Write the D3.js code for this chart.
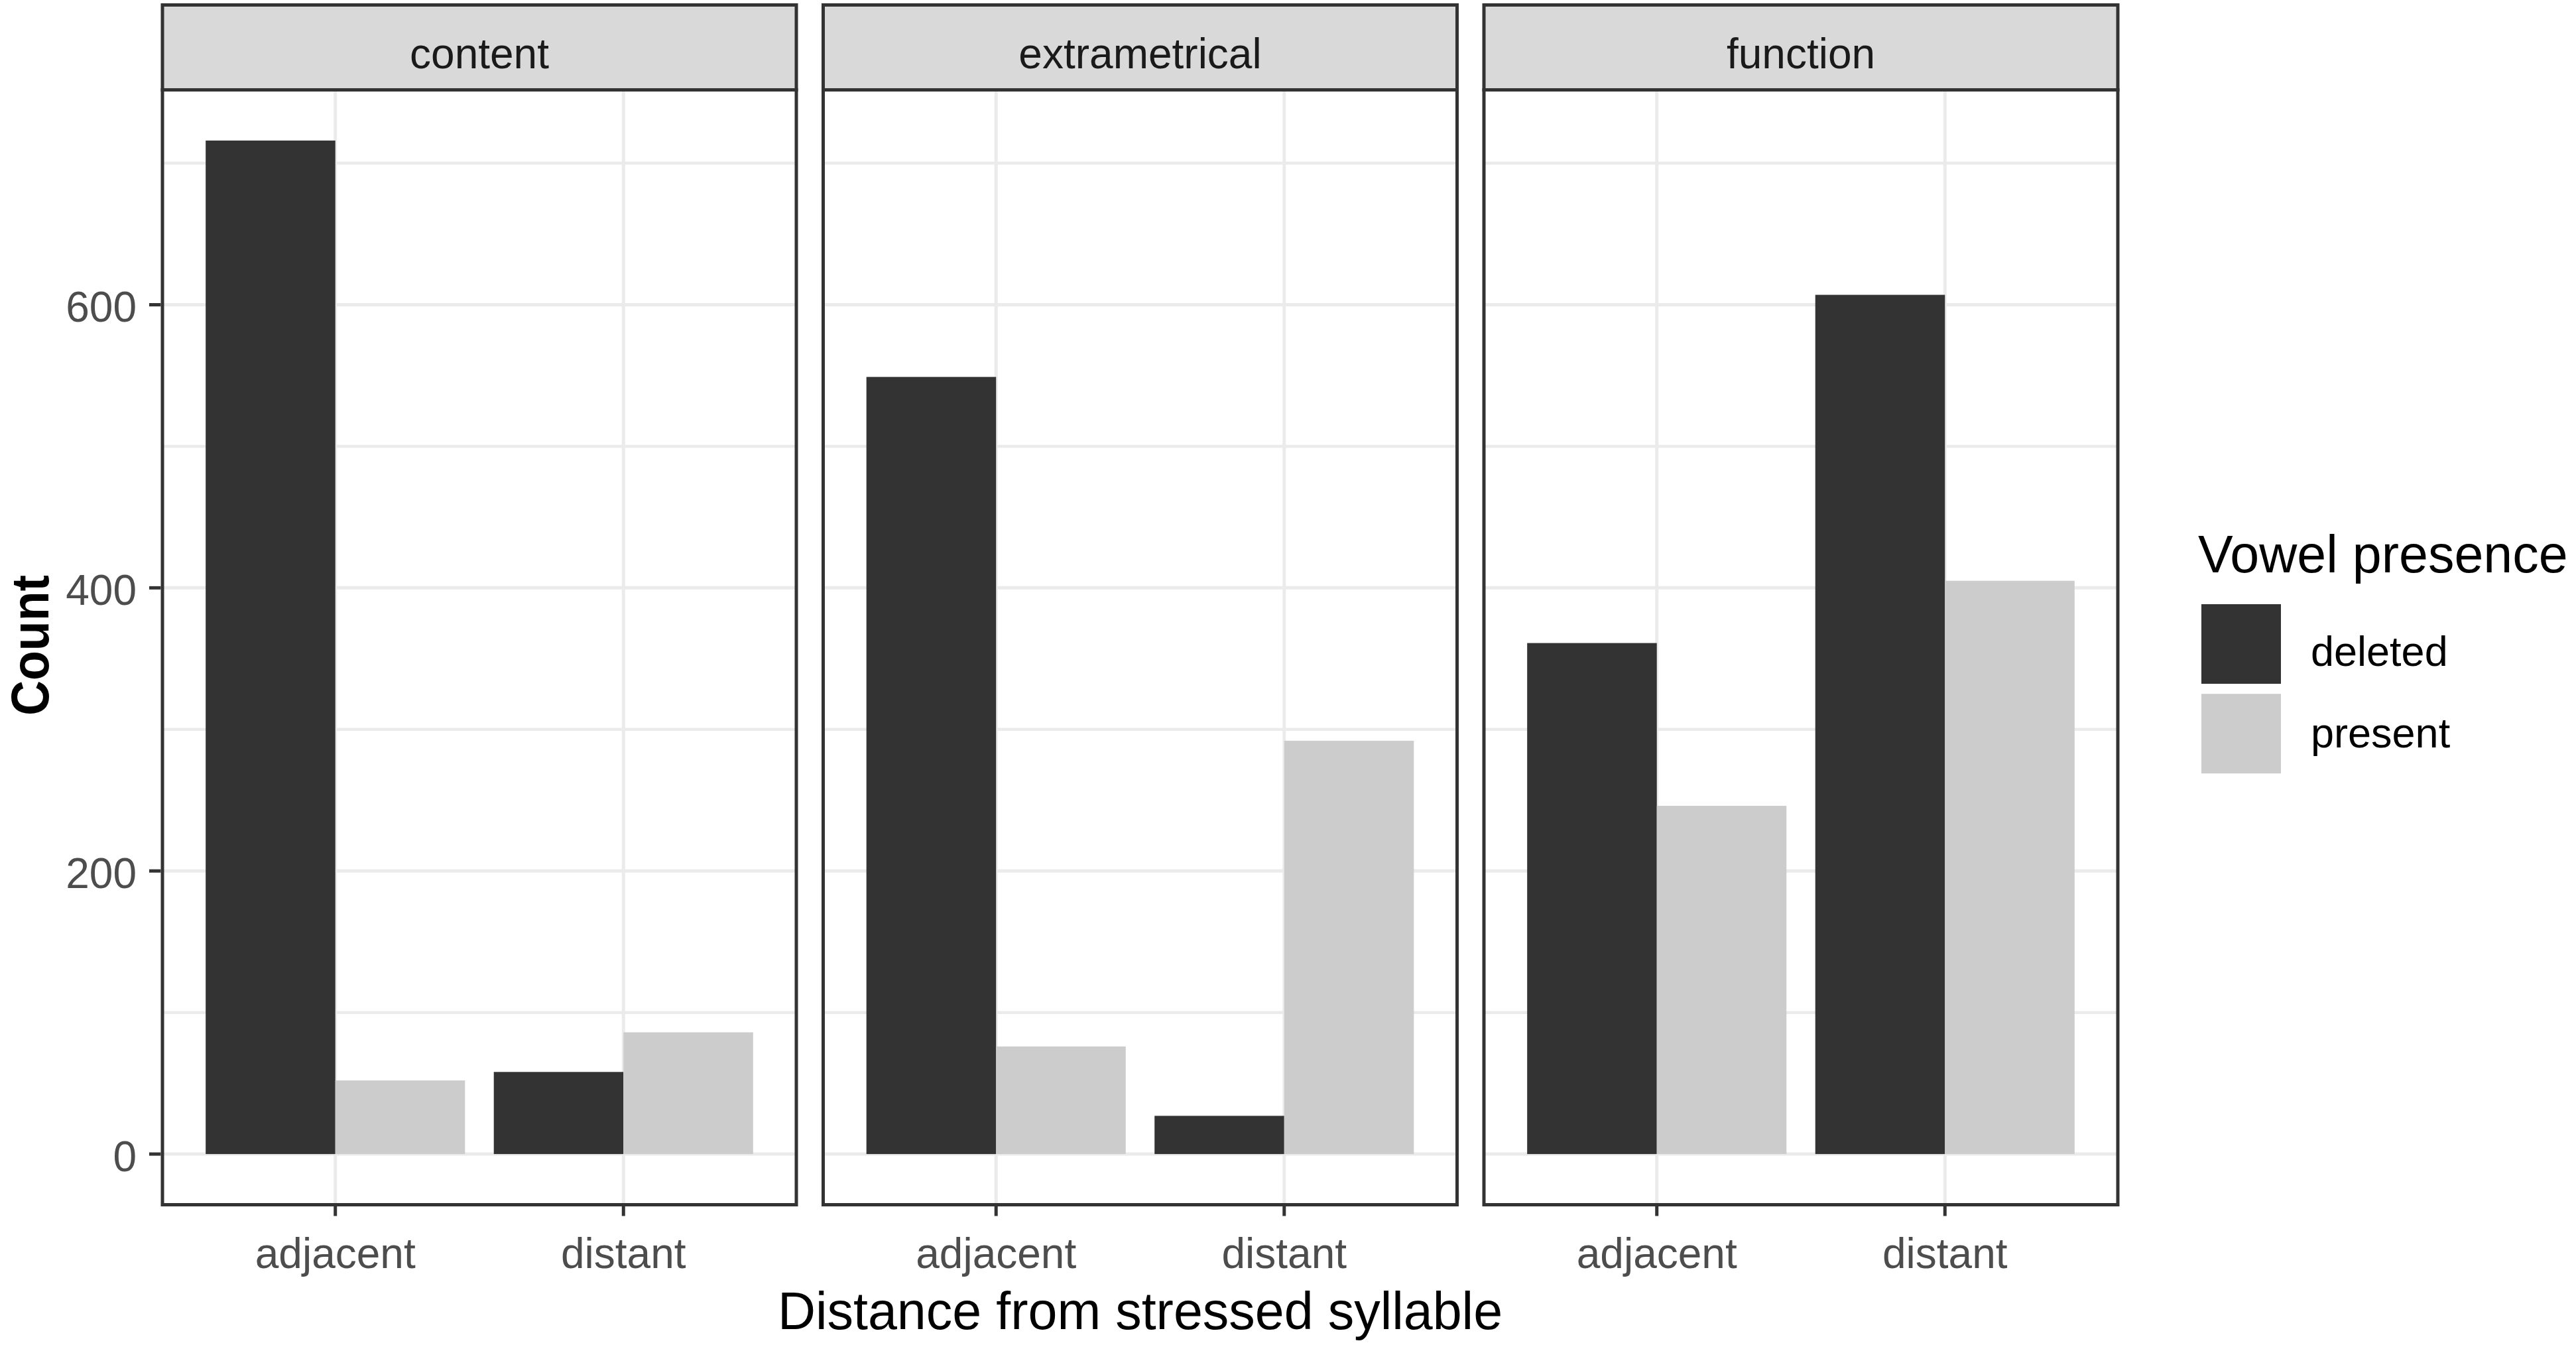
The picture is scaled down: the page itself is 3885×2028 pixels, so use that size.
<!DOCTYPE html>
<html>
<head>
<meta charset="utf-8">
<script src="https://cdn.jsdelivr.net/npm/d3@7"></script>
<style>
  html, body { margin: 0; padding: 0; background: #ffffff; }
  svg { display: block; }
  text { font-family: "Liberation Sans", Arial, sans-serif; }
</style>
</head>
<body>
<script>
// ---- Data ----
const panels = ["content", "extrametrical", "function"];
const distances = ["adjacent", "distant"];
const groups = ["deleted", "present"];
const deletedCounts = {
  content: [716, 58],
  extrametrical: [549, 27],
  function: [361, 607]
};
const presentCounts = {
  content: [52, 86],
  extrametrical: [76, 292],
  function: [246, 405]
};
const yTicks = [0, 200, 400, 600];
const yMinorTicks = [100, 300, 500, 700];
const xTitle = "Distance from stressed syllable";
const yTitle = "Count";
const legendTitle = "Vowel presence";
const fillColors = ["#333333", "#CCCCCC"];

// ---- Layout ----
const W = 3885, H = 2028;
const panelLeft0 = 245, panelStep = 996.5, panelW = 956;
const stripTop = 7.5, panelTop = 135.5, panelBottom = 1816.5;
const lineW = 5;

const svg = d3.select("body").append("svg").attr("width", W).attr("height", H);
svg.append("rect").attr("width", W).attr("height", H).attr("fill", "#ffffff");

// build flat table
const rows = [];
panels.forEach(p => distances.forEach((d, i) => {
  rows.push({panel: p, distance: d, group: "deleted", value: deletedCounts[p][i]});
  rows.push({panel: p, distance: d, group: "present", value: presentCounts[p][i]});
}));

const maxV = d3.max(rows, r => r.value);
const yDomain = [0 - 0.05 * maxV, maxV + 0.05 * maxV];
const y = d3.scaleLinear().domain(yDomain).range([panelBottom, panelTop]);
const fill = d3.scaleOrdinal().domain(groups).range(fillColors);

panels.forEach((p, pi) => {
  const left = panelLeft0 + pi * panelStep;
  const right = left + panelW;
  const xc = d3.scaleLinear().domain([0.4, distances.length + 0.6]).range([left, right]);
  const g = svg.append("g");

  g.append("rect").attr("x", left).attr("y", panelTop).attr("width", panelW).attr("height", panelBottom - panelTop).attr("fill", "#ffffff");

  g.selectAll(".minor").data(yMinorTicks).join("line")
    .attr("x1", left).attr("x2", right)
    .attr("y1", d => y(d)).attr("y2", d => y(d))
    .attr("stroke", "#EBEBEB").attr("stroke-width", 4.5);
  g.selectAll(".major").data(yTicks).join("line")
    .attr("x1", left).attr("x2", right)
    .attr("y1", d => y(d)).attr("y2", d => y(d))
    .attr("stroke", "#EBEBEB").attr("stroke-width", 5);
  g.selectAll(".vgrid").data(distances).join("line")
    .attr("x1", (d, i) => xc(i + 1)).attr("x2", (d, i) => xc(i + 1))
    .attr("y1", panelTop).attr("y2", panelBottom)
    .attr("stroke", "#EBEBEB").attr("stroke-width", 5);

  const sub = d3.scaleBand().domain(groups).range([-0.45, 0.45]).padding(0);
  const data = rows.filter(r => r.panel === p);
  g.selectAll(".bar").data(data).join("rect")
    .attr("x", d => xc(distances.indexOf(d.distance) + 1 + sub(d.group)))
    .attr("width", d => xc(1 + sub.bandwidth()) - xc(1))
    .attr("y", d => y(d.value))
    .attr("height", d => y(0) - y(d.value))
    .attr("fill", d => fill(d.group));

  g.append("rect").attr("x", left).attr("y", panelTop).attr("width", panelW).attr("height", panelBottom - panelTop)
    .attr("fill", "none").attr("stroke", "#333333").attr("stroke-width", lineW);

  g.append("rect").attr("x", left).attr("y", stripTop).attr("width", panelW).attr("height", panelTop - stripTop)
    .attr("fill", "#D9D9D9").attr("stroke", "#333333").attr("stroke-width", lineW);
  g.append("text").attr("x", left + panelW / 2).attr("y", 103)
    .attr("text-anchor", "middle").attr("font-size", 64).attr("fill", "#1A1A1A").text(p);

  g.selectAll(".xtick").data(distances).join("line")
    .attr("x1", (d, i) => xc(i + 1)).attr("x2", (d, i) => xc(i + 1))
    .attr("y1", panelBottom + lineW / 2).attr("y2", panelBottom + 17)
    .attr("stroke", "#333333").attr("stroke-width", lineW);
  g.selectAll(".xlab").data(distances).join("text")
    .attr("x", (d, i) => xc(i + 1)).attr("y", 1912)
    .attr("text-anchor", "middle").attr("font-size", 64).attr("fill", "#4D4D4D").text(d => d);

  if (pi === 0) {
    g.selectAll(".ytick").data(yTicks).join("line")
      .attr("x1", left - 20).attr("x2", left - lineW / 2)
      .attr("y1", d => y(d)).attr("y2", d => y(d))
      .attr("stroke", "#333333").attr("stroke-width", lineW);
    g.selectAll(".ylab").data(yTicks).join("text")
      .attr("x", 206).attr("y", d => y(d) + 26)
      .attr("text-anchor", "end").attr("font-size", 64).attr("fill", "#4D4D4D").text(d => d);
  }
});

// axis titles
svg.append("text").attr("x", (panelLeft0 + panelLeft0 + panelStep * 2 + panelW) / 2).attr("y", 2004)
  .attr("text-anchor", "middle").attr("font-size", 79).attr("fill", "#000000").text(xTitle);
svg.append("text")
  .attr("transform", `translate(73, ${(panelTop + panelBottom) / 2 - 3}) rotate(-90)`)
  .attr("text-anchor", "middle").attr("font-size", 80).attr("font-weight", "bold").attr("fill", "#000000")
  .attr("textLength", 212).attr("lengthAdjust", "spacingAndGlyphs").text(yTitle);

// legend
const lg = svg.append("g");
lg.append("text").attr("x", 3315).attr("y", 863).attr("font-size", 79).attr("fill", "#000000").text(legendTitle);
const keyY = d3.scaleBand().domain(groups).range([906, 1166]).paddingInner(10 / 130);
lg.selectAll(".key").data(groups).join("rect")
  .attr("x", 3320).attr("y", d => keyY(d) + 5).attr("width", 120).attr("height", 120)
  .attr("fill", d => fill(d));
const labelY = d3.scalePoint().domain(groups).range([1004, 1127]);
lg.selectAll(".klab").data(groups).join("text")
  .attr("x", 3485).attr("y", d => labelY(d))
  .attr("font-size", 63).attr("fill", "#000000").text(d => d);
</script>
</body>
</html>
